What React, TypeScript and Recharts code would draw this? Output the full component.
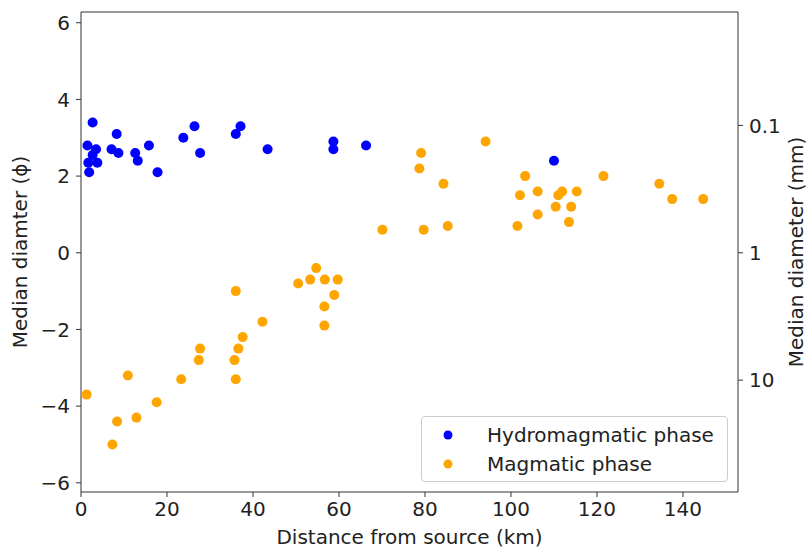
import React from 'react';
import { ScatterChart, Scatter, XAxis, YAxis, Legend, ReferenceLine } from 'recharts';

// distance (km), median diameter (phi)
const hydroDist = [2.7, 1.5, 3.5, 2.7, 1.7, 3.8, 1.9, 8.3, 7.1, 8.7, 12.6, 13.2, 15.8, 17.8, 23.8, 26.4, 27.7, 36.0, 37.1, 43.4, 58.7, 58.7, 66.3, 110.0];
const hydroPhi = [3.4, 2.8, 2.7, 2.55, 2.35, 2.35, 2.1, 3.1, 2.7, 2.6, 2.6, 2.4, 2.8, 2.1, 3.0, 3.3, 2.6, 3.1, 3.3, 2.7, 2.9, 2.7, 2.8, 2.4];

const magDist = [94.1, 79.1, 78.7, 84.3, 103.3, 121.5, 134.5, 137.5, 144.7, 102.1, 106.2, 111.0, 111.9, 115.3, 110.4, 114.0, 106.2, 113.5, 101.5, 70.1, 79.7, 85.3,
  54.7, 50.5, 53.3, 56.7, 59.7, 58.9, 56.6, 56.6, 36.0, 42.2, 37.6, 36.6, 35.7, 36.0, 27.7, 27.4, 23.3, 17.6, 10.9, 12.9, 8.4, 7.3, 1.3];
const magPhi = [2.9, 2.6, 2.2, 1.8, 2.0, 2.0, 1.8, 1.4, 1.4, 1.5, 1.6, 1.5, 1.6, 1.6, 1.2, 1.2, 1.0, 0.8, 0.7, 0.6, 0.6, 0.7,
  -0.4, -0.8, -0.7, -0.7, -0.7, -1.1, -1.4, -1.9, -1.0, -1.8, -2.2, -2.5, -2.8, -3.3, -2.5, -2.8, -3.3, -3.9, -3.2, -4.3, -4.4, -5.0, -3.7];

const xTicks = [0, 20, 40, 60, 80, 100, 120, 140];
const phiTicks = [-6, -4, -2, 0, 2, 4, 6];
const mmTicks = [0.1, 1, 10];

const hydro = hydroDist.map((d, i) => ({ d, phi: hydroPhi[i] }));
const magmatic = magDist.map((d, i) => ({ d, phi: magPhi[i] }));
const mmTickPos = mmTicks.map((mm) => -Math.log2(mm));

const PHI_MIN = -6.24;
const PHI_MAX = 6.28;
const FONT = 'DejaVu Sans, sans-serif';
const SPINE = '#333';
const tickStyle = { fontFamily: FONT, fontSize: 20, fill: '#222' };
const minus = (v: number) => String(v).replace('-', '\u2212');

const Dot = (props: any) => <circle cx={props.cx} cy={props.cy} r={5} fill={props.fill} />;

const LegendBox = (props: any) => (
  <div style={{ width: 307, height: 66, border: '1px solid #ccc', borderRadius: 4, background: '#fff', boxSizing: 'border-box', padding: '3px 0', fontFamily: FONT, fontSize: 20, color: '#222' }}>
    {(props.payload || []).filter((p: any) => p.type !== 'none').map((p: any) => (
      <div key={p.value} style={{ display: 'flex', alignItems: 'center', height: 29 }}>
        <svg width={56} height={29}>
          <circle cx={26} cy={15} r={4.5} fill={p.color} />
        </svg>
        <span style={{ marginLeft: 9 }}>{p.value}</span>
      </div>
    ))}
  </div>
);

const App: React.FC = () => {
  return (
    <div style={{ position: 'absolute', left: 0, top: 0 }}>
      <ScatterChart width={808} height={548} margin={{ top: 12, right: 0, bottom: 0, left: 0 }}>
        <XAxis
          type="number"
          dataKey="d"
          domain={[0, 152.8]}
          ticks={xTicks}
          tickSize={5}
          tickMargin={5}
          height={56}
          stroke={SPINE}
          tick={tickStyle}
          label={() => (
            <text x={409.5} y={537} textAnchor="middle" dominantBaseline="central" style={tickStyle}>
              Distance from source (km)
            </text>
          )}
        />
        <YAxis
          type="number"
          dataKey="phi"
          domain={[PHI_MIN, PHI_MAX]}
          ticks={phiTicks}
          tickFormatter={minus}
          tickSize={5}
          tickMargin={6}
          width={81}
          stroke={SPINE}
          tick={tickStyle}
          label={() => (
            <text x={20} y={252} transform="rotate(-90 20 252)" textAnchor="middle" dominantBaseline="central" style={tickStyle}>
              Median diamter (ϕ)
            </text>
          )}
        />
        <YAxis
          yAxisId="mm"
          orientation="right"
          type="number"
          dataKey="phi"
          domain={[PHI_MIN, PHI_MAX]}
          ticks={mmTickPos}
          tickFormatter={(v: number) => String(Math.round(Math.pow(2, -v) * 10) / 10)}
          tickSize={5}
          tickMargin={6}
          width={70}
          stroke={SPINE}
          tick={tickStyle}
          label={() => (
            <text x={796} y={252} transform="rotate(-90 796 252)" textAnchor="middle" dominantBaseline="central" style={tickStyle}>
              Median diameter (mm)
            </text>
          )}
        />
        <ReferenceLine y={PHI_MAX} stroke={SPINE} ifOverflow="visible" />
        <Legend
          layout="horizontal"
          verticalAlign="middle"
          align="center"
          wrapperStyle={{ left: 421, top: 416, width: 307, height: 66 }}
          content={<LegendBox />}
        />
        <Scatter yAxisId="mm" data={magmatic} legendType="none" shape={() => null} isAnimationActive={false} />
        <Scatter name="Hydromagmatic phase" data={hydro} fill="#0000ff" shape={Dot} isAnimationActive={false} />
        <Scatter name="Magmatic phase" data={magmatic} fill="#ffa500" shape={Dot} isAnimationActive={false} />
      </ScatterChart>
    </div>
  );
};

export default App;
